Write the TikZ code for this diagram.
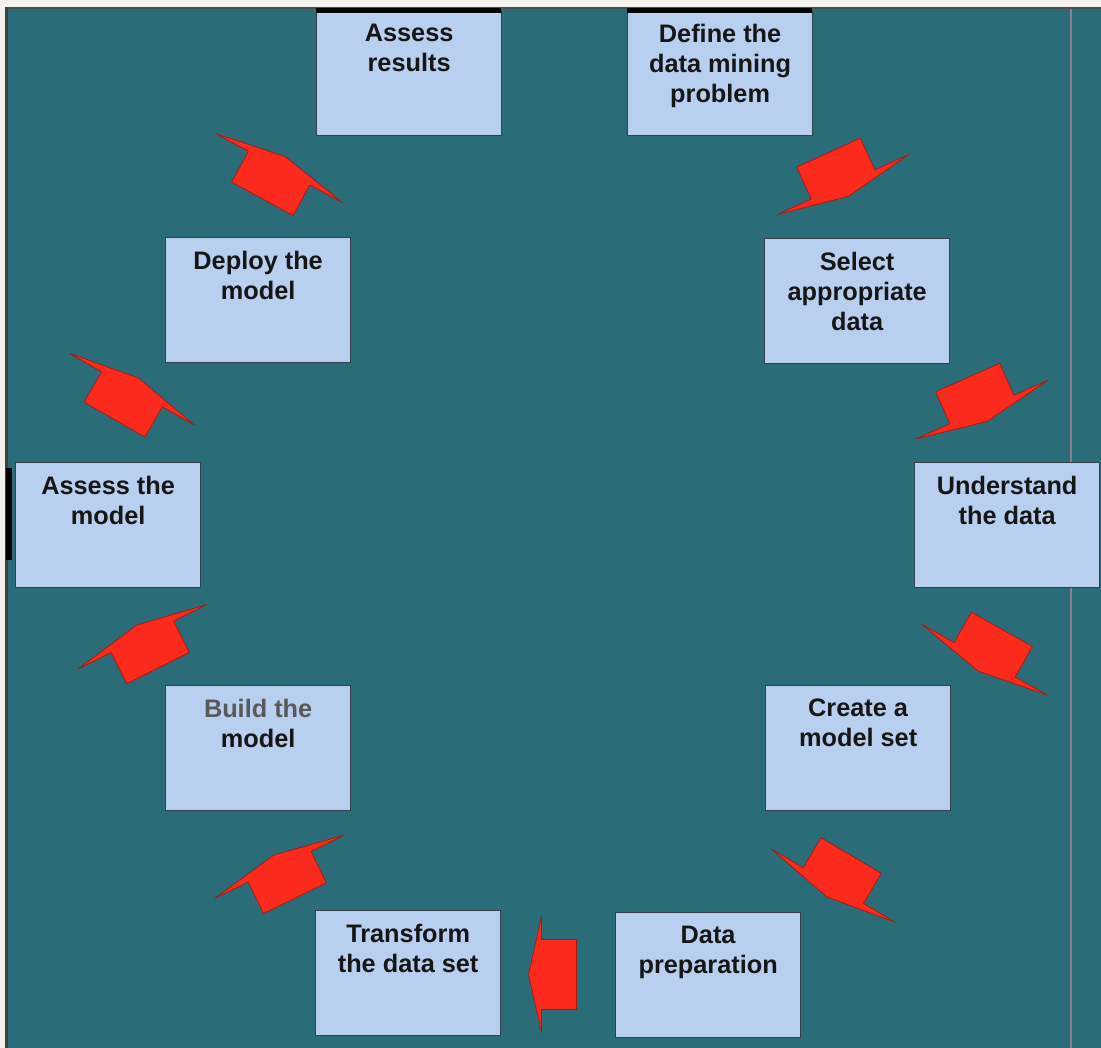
\documentclass[tikz,border=0pt]{standalone}
\usepackage{fontspec}
\setmainfont{Liberation Sans}
\definecolor{sea}{HTML}{2B6C79}
\definecolor{paper}{HTML}{F3F1EC}
\definecolor{boxfill}{HTML}{B8CFF0}
\definecolor{boxedge}{HTML}{34404C}
\definecolor{inkdark}{HTML}{161616}
\definecolor{arrowred}{HTML}{FB2A1C}
\definecolor{arrowrim}{HTML}{A8180E}
\definecolor{rule}{HTML}{8A8090}
% text block inside a stage box: top aligned, centred lines
\newcommand\stagetext[1]{\parbox[c][31.25mm][t]{46.25mm}{\vspace*{3.4mm}\centering #1\par}}
\tikzset{
  stage/.style={draw=boxedge, line width=0.9pt, fill=boxfill, inner sep=0pt,
    anchor=north west, text=inkdark,
    font=\bfseries\fontsize{18}{21.3}\selectfont},
  pics/flowarrow/.style={code={
    \fill[arrowred, draw=arrowrim, line width=0.5pt, line join=round]
      (-18,-35) -- (-18,35) -- (17,35) -- (17,#1) -- (30,0)
      -- (17,-#1) -- (17,-35) -- cycle;
  }}
}
\begin{document}
\begin{tikzpicture}[x=0.25mm, y=-0.25mm]
\useasboundingbox (0,0) rectangle (1101,1048);
% page and panel
\fill[paper] (0,0) rectangle (1101,1048);
\fill[sea] (5,7) rectangle (1101,1048);
\fill[black!70] (5,7) rectangle (1101,9);
\fill[black!75] (5,7) rectangle (8,1048);
\fill[rule] (1070,9) rectangle (1072,1048);
\fill[black] (6,468) rectangle (12,560);

% stages of the cycle
\node[stage] (results) at (316,10) {\stagetext{Assess\\results}};
\node[stage] (define) at (627,10) {\stagetext{Define the\\data mining\\problem}};
\node[stage] (deploy) at (165,237) {\stagetext{Deploy the\\model}};
\node[stage] (select) at (764,238) {\stagetext{Select\\appropriate\\data}};
\node[stage] (assessmodel) at (15,462) {\stagetext{Assess the\\model}};
\node[stage] (understand) at (914,462) {\stagetext{Understand\\the data}};
\node[stage] (build) at (165,685) {\stagetext{{\color{black!65}Build the}\\model}};
\node[stage] (create) at (765,685) {\stagetext{Create a\\model set}};
\node[stage] (transform) at (315,910) {\stagetext{Transform\\the data set}};
\node[stage] (prep) at (615,912) {\stagetext{Data\\preparation}};

% dark caps along the top edge of the first boxes
\fill[black] (316,8) rectangle (501,13);
\fill[black] (627,8) rectangle (812,13);

% block arrows between the stages
\pic[rotate=-65.4] at (836,169) {flowarrow=72};
\pic[rotate=-66] at (975,394) {flowarrow=72};
\pic[rotate=-119.4] at (993,645) {flowarrow=72};
\pic[rotate=-120.6] at (842,871) {flowarrow=72};
\pic[rotate=180] at (558.5,974.5) {flowarrow=58};
\pic[rotate=116] at (287,882) {flowarrow=72};
\pic[rotate=116.6] at (150,652) {flowarrow=72};
\pic[rotate=60.1] at (123.5,404) {flowarrow=72};
\pic[rotate=61.4] at (271,183) {flowarrow=72};
\end{tikzpicture}
\end{document}
